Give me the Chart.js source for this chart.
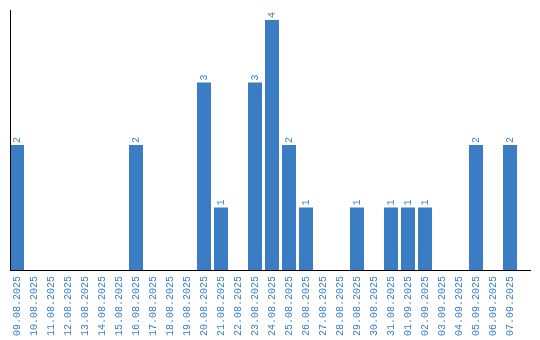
<!DOCTYPE html>
<html>
<head>
<meta charset="utf-8">
<script src="https://cdn.jsdelivr.net/npm/chart.js@4/dist/chart.umd.min.js"></script>
<style>
html,body{margin:0;padding:0;background:#fff;}
#wrap{width:540px;height:340px;position:relative;}
</style>
</head>
<body>
<div id="wrap"><canvas id="c" width="540" height="340"></canvas></div>
<script>
const categories = ["09.08.2025","10.08.2025","11.08.2025","12.08.2025","13.08.2025","14.08.2025","15.08.2025","16.08.2025","17.08.2025","18.08.2025","19.08.2025","20.08.2025","21.08.2025","22.08.2025","23.08.2025","24.08.2025","25.08.2025","26.08.2025","27.08.2025","28.08.2025","29.08.2025","30.08.2025","31.08.2025","01.09.2025","02.09.2025","03.09.2025","04.09.2025","05.09.2025","06.09.2025","07.09.2025"];
const counts = [2,0,0,0,0,0,0,2,0,0,0,3,1,0,3,4,2,1,0,0,1,0,1,1,1,0,0,2,0,2];

const BLUE = '#3b7dc4';
const FONT = '"Liberation Mono", monospace';

const axesPlugin = {
  id: 'axesLines',
  afterDatasetsDraw(chart) {
    const ctx = chart.ctx;
    const ys = chart.scales.y;
    const y0 = Math.round(ys.getPixelForValue(0)) + 0.5;
    ctx.save();
    ctx.strokeStyle = '#000';
    ctx.lineWidth = 1;
    ctx.beginPath();
    ctx.moveTo(10.5, chart.chartArea.top);
    ctx.lineTo(10.5, y0);
    ctx.moveTo(10, y0);
    ctx.lineTo(531, y0);
    ctx.stroke();
    const meta = chart.getDatasetMeta(0);
    ctx.fillStyle = BLUE;
    ctx.font = '10px ' + FONT;
    ctx.textAlign = 'left';
    ctx.textBaseline = 'middle';
    meta.data.forEach((bar, i) => {
      const v = counts[i];
      if (!v) return;
      ctx.save();
      ctx.translate(bar.x, bar.y - 2);
      ctx.rotate(-Math.PI / 2);
      ctx.fillText(String(v), 0, 0);
      ctx.restore();
    });
    ctx.restore();
  }
};

new Chart(document.getElementById('c'), {
  type: 'bar',
  data: {
    labels: categories,
    datasets: [{
      data: counts,
      backgroundColor: BLUE,
      borderWidth: 0,
      barPercentage: 14/17,
      categoryPercentage: 1
    }]
  },
  options: {
    responsive: false,
    animation: false,
    layout: { padding: { left: 8.5, right: 21.5, top: 10, bottom: 0 } },
    plugins: { legend: { display: false }, tooltip: { enabled: false } },
    scales: {
      x: {
        grid: { display: false, drawTicks: false },
        border: { display: false },
        ticks: {
          autoSkip: false,
          minRotation: 90,
          maxRotation: 90,
          padding: 6,
          color: BLUE,
          font: { family: FONT, size: 10 }
        },
        afterFit(scale) { scale.height = 70; }
      },
      y: {
        display: false,
        min: 0,
        max: 4.16
      }
    }
  },
  plugins: [axesPlugin]
});
</script>
</body>
</html>
